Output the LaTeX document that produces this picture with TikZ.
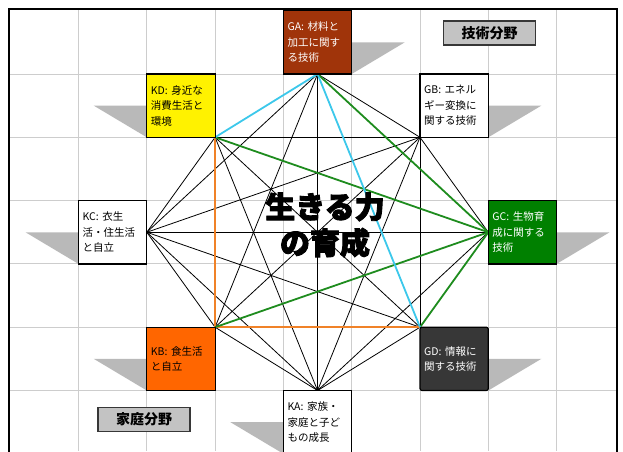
\documentclass[tikz,border=0pt]{standalone}
\usepackage{fontspec}
\setmainfont{Noto Sans CJK JP}
\usetikzlibrary{calc,fadings}
\definecolor{gridc}{RGB}{205,205,205}
\definecolor{shadowc}{RGB}{185,185,185}
\definecolor{brownc}{RGB}{160,52,10}
\definecolor{greenc}{RGB}{0,128,0}
\definecolor{orangec}{RGB}{255,102,0}
\definecolor{darkc}{RGB}{55,55,55}
\definecolor{cyanc}{RGB}{60,200,235}
\definecolor{linegreen}{RGB}{30,140,30}
\definecolor{lineorange}{RGB}{240,130,40}
\definecolor{labelc}{RGB}{195,195,195}
\pgfdeclarelayer{bg}
\pgfsetlayers{bg,main}
\newcommand{\heavytext}[2]{\special{pdf:literal direct 2 Tr #1 w}#2\special{pdf:literal direct 0 Tr}}
\tikzset{
  area/.style={draw=black, line width=1.2pt, minimum width=68.3pt, minimum height=63.3pt,
    inner sep=0pt, outer sep=0pt, align=left, text width=60pt,
    font=\fontsize{10.5}{15.5}\selectfont},
  shadowtri/.style={fill=shadowc, draw=none},
  link/.style={black, line width=0.8pt},
  cyanlink/.style={cyanc, line width=1.8pt},
  greenlink/.style={linegreen, line width=1.8pt},
  orangelink/.style={lineorange, line width=1.8pt},
  fieldlabel/.style={draw=darkc, fill=labelc, line width=1.5pt, minimum width=92pt,
    minimum height=24pt, inner sep=0pt, font=\fontsize{14}{16}\selectfont\bfseries},
  centertext/.style={align=center, font=\fontsize{30}{36}\selectfont\bfseries}
}
\begin{tikzfadingfrompicture}[name=halofade]
  \fill[white] (-400pt,-300pt) rectangle (400pt,300pt);
  \node[centertext, text=black] at (0,0) {\heavytext{4.6}{生きる力}\\\heavytext{4.6}{の育成}};
\end{tikzfadingfrompicture}
\begin{document}
\begin{tikzpicture}[x=1pt,y=-1pt]
\useasboundingbox (0,0) rectangle (623,451);

% boxes
\node[area, fill=brownc, text=white] (GA) at (317.55,42.35) {GA: 材料と\\加工に関す\\る技術};
\node[area, fill=white] (GB) at (454.15,105.65) {GB: エネル\\ギー変換に\\関する技術};
\node[area, fill=yellow] (KD) at (180.95,105.65) {KD: 身近な\\消費生活と\\環境};
\node[area, fill=white] (KC) at (112.65,232.25) {KC: 衣生\\活・住生活\\と自立};
\node[area, fill=greenc, text=white] (GC) at (522.45,232.25) {GC: 生物育\\成に関する\\技術};
\node[area, fill=orangec] (KB) at (180.95,358.85) {KB: 食生活\\と自立};
\node[area, fill=darkc, text=white, rounded corners=2pt] (GD) at (454.15,358.85) {GD: 情報に\\関する技術};
\node[area, fill=white] (KA) at (317.55,422.15) {KA: 家族・\\家庭と子ど\\もの成長};

\node[fieldlabel] (tech) at (489.5,33) {技術分野};
\node[fieldlabel] (home) at (144,419.5) {家庭分野};

\coordinate (vA) at (GA.south);
\coordinate (vB) at (GB.south west);
\coordinate (vC) at (GC.west);
\coordinate (vD) at (GD.north west);
\coordinate (vKA) at (KA.north);
\coordinate (vKB) at (KB.north east);
\coordinate (vKC) at (KC.east);
\coordinate (vKD) at (KD.south east);

\begin{pgfonlayer}{bg}
  \fill[white] (0,0) rectangle (623,451);
  % grid
  \begin{scope}
    \clip (9,9) rectangle (617,451);
    \foreach \k in {0,...,7} \draw[gridc, line width=1pt] ({78.5+68.3*\k},9) -- ({78.5+68.3*\k},451);
    \foreach \r in {0,...,5} \draw[gridc, line width=1pt] (9,{74+63.3*\r}) -- (617,{74+63.3*\r});
  \end{scope}
  \draw[black, line width=1.2pt] (9,460) -- (9,9) -- (617,9) -- (617,460);
  % shadows
  \foreach \n in {GA,GB,GC,GD} \fill[shadowtri] (\n.east) -- ++(53,0) -- (\n.south east) -- cycle;
  \foreach \n in {KA,KB,KC,KD} \fill[shadowtri] (\n.west) -- ++(-53,0) -- (\n.south west) -- cycle;
  % all links, knocked out around the central title
  \begin{scope}[scope fading=halofade, fit fading=false, fading transform={shift={(325,225)}}]
  \foreach \p/\q in {vA/vB,vA/vKA,vA/vKB,vA/vKC,
                     vB/vC,vB/vD,vB/vKA,vB/vKB,vB/vKC,vB/vKD,
                     vC/vKA,vC/vKC,
                     vD/vKA,vD/vKC,vD/vKD,
                     vKA/vKB,vKA/vKC,vKA/vKD,
                     vKB/vKC,vKC/vKD}
    \draw[link] (\p) -- (\q);
  \draw[orangelink] (vKD) -- (vKB) -- (vD);
  \draw[greenlink] (vA) -- (vC);
  \draw[greenlink] (vKD) -- (vC);
  \draw[greenlink] (vKB) -- (vC);
  \draw[greenlink] (vD) -- (vC);
  \draw[cyanlink] (vKD) -- (vA) -- (vD);
  \end{scope}
\end{pgfonlayer}

% center title
\node[centertext] (title) at (325,225) {\heavytext{0.9}{生きる力}\\\heavytext{0.9}{の育成}};
\end{tikzpicture}
\end{document}
